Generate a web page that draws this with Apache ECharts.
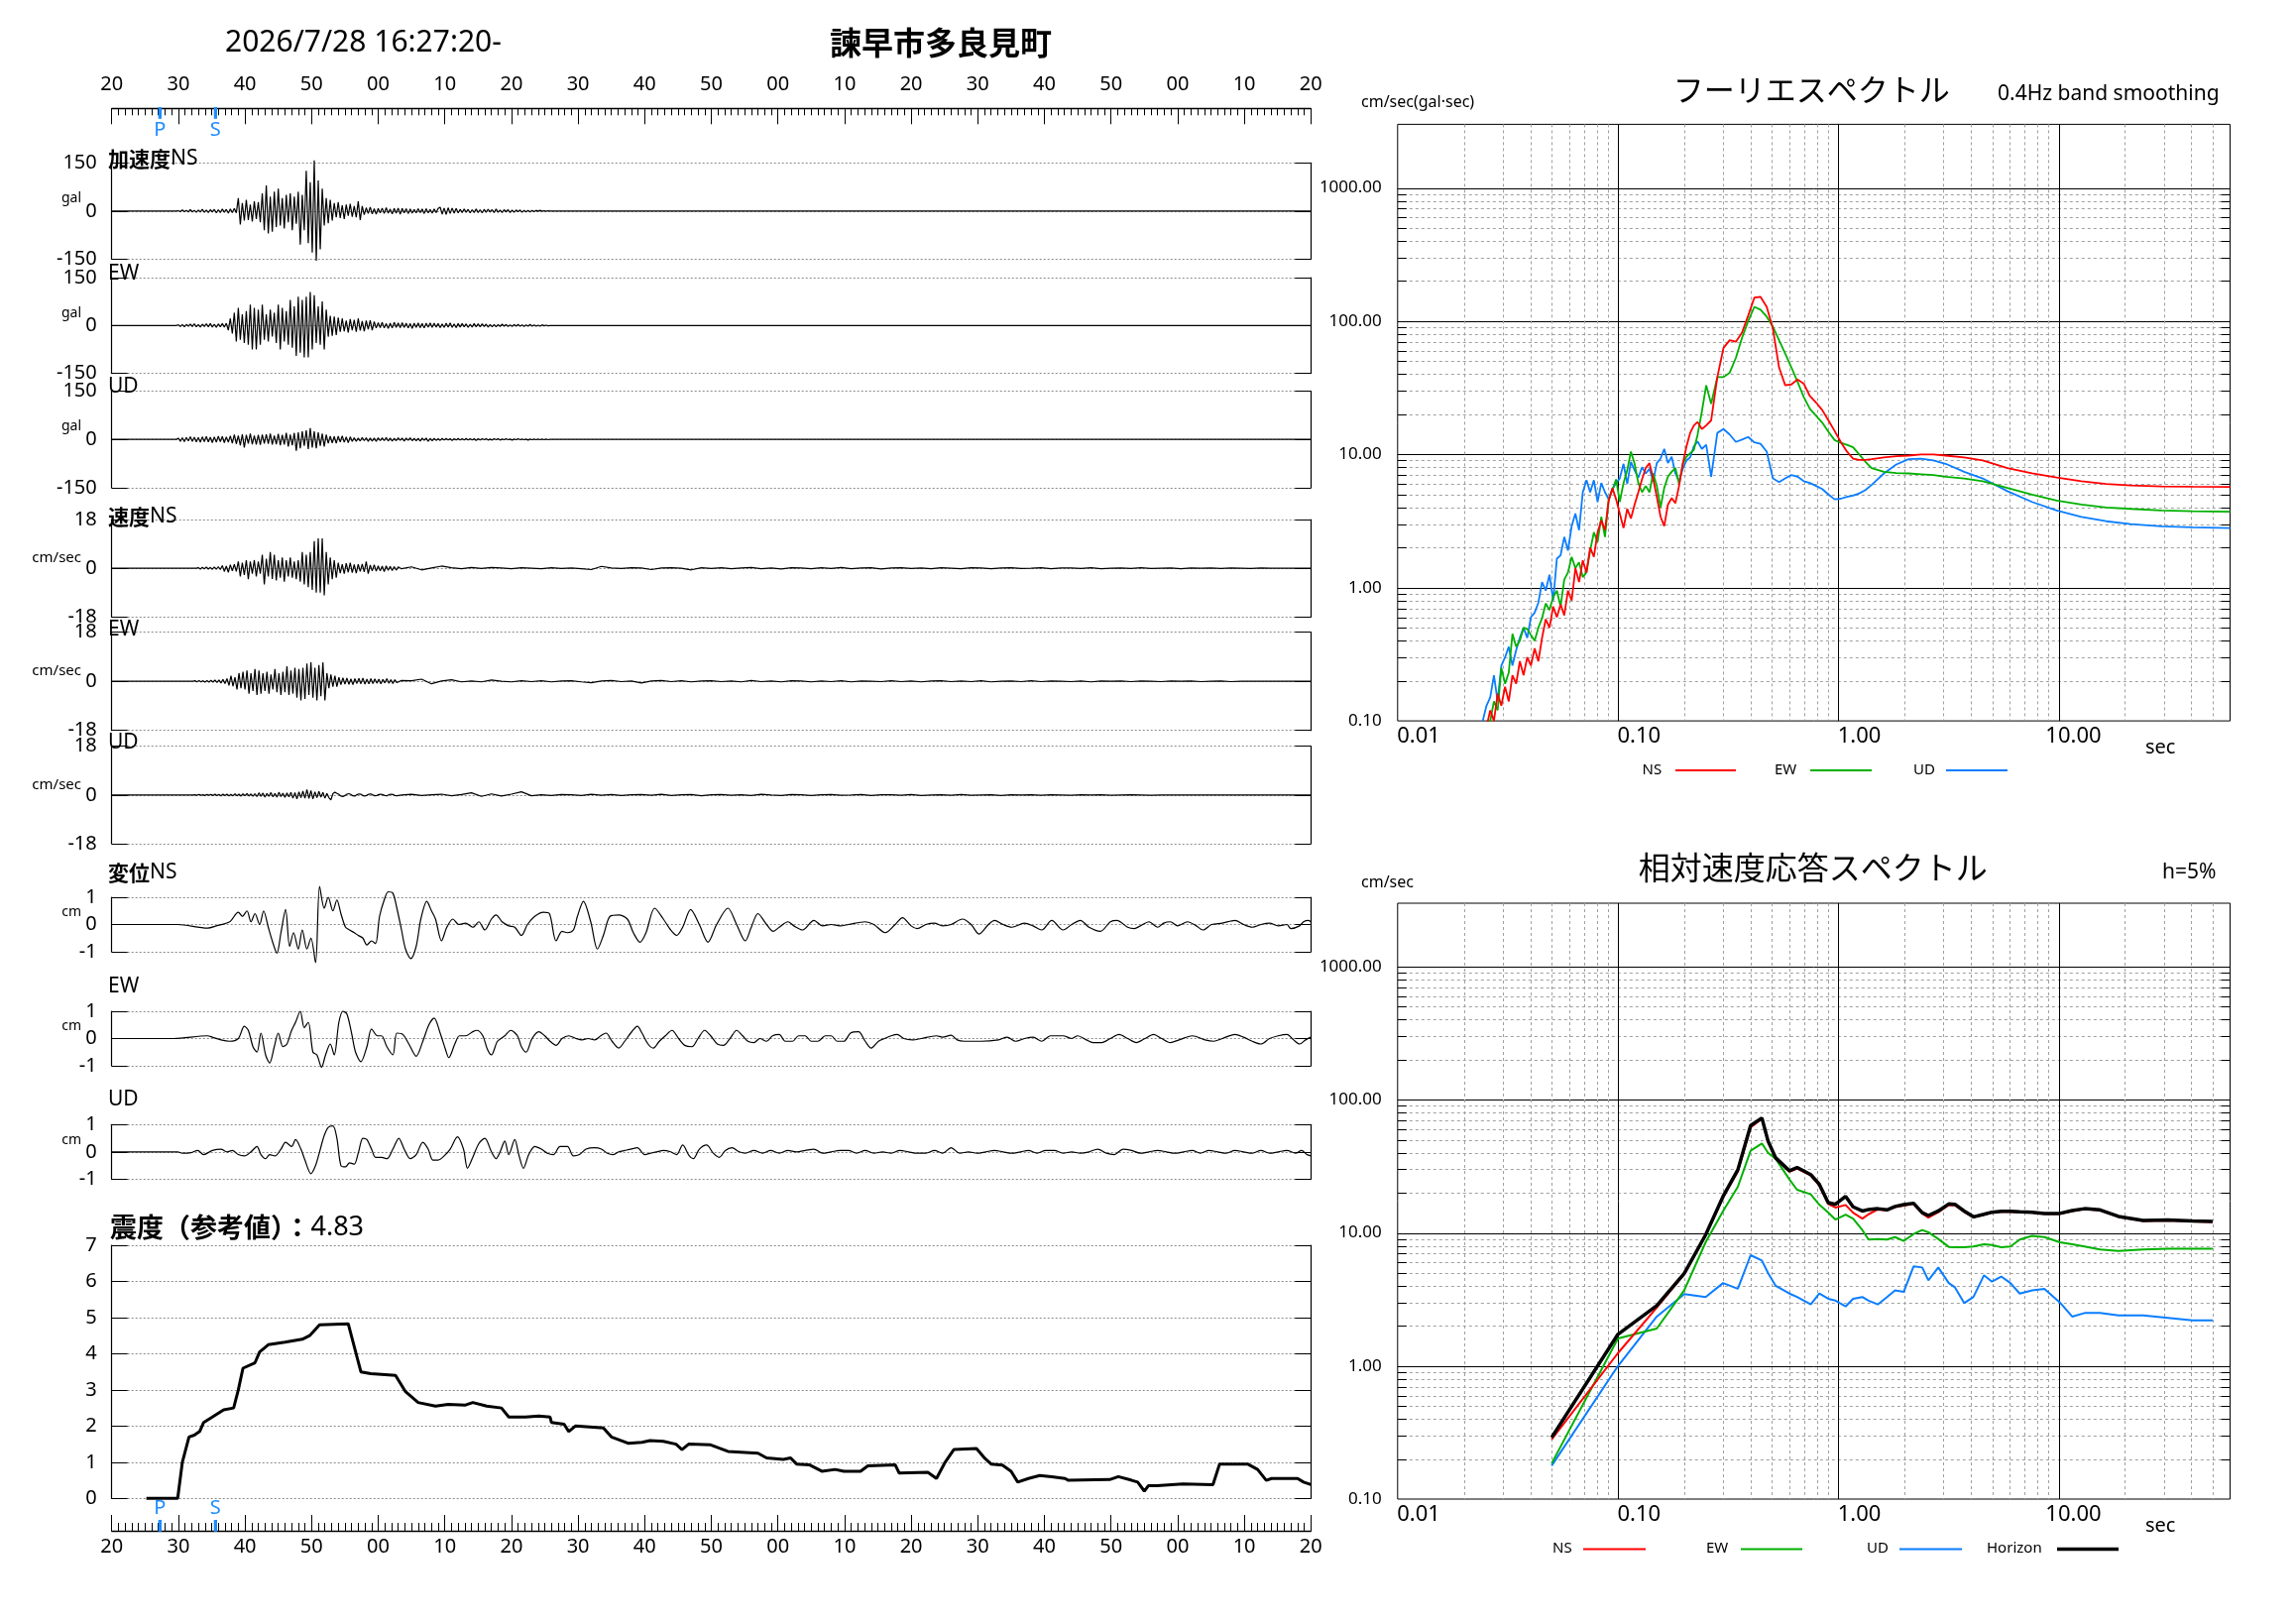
<!DOCTYPE html>
<html>
<head>
<meta charset="utf-8">
<title>諫早市多良見町</title>
<script src="https://cdn.jsdelivr.net/npm/echarts@6.0.0/dist/echarts.min.js"></script>
<style>html,body{margin:0;padding:0;background:#fff;}#chart{width:2316px;height:1637px;}</style>
</head>
<body>
<div id="chart"></div>
<script>
// ================= DATA =================
const startSecond = 20;                 // 16:27:20 -> t = 0
const psTimes = [7.23, 15.57];          // P and S arrival (s)
const psLabels = ['P', 'S'];

// acceleration (gal), samples every 0.3 s from t = 10 s
const accT0 = 10, accDt = 0.3;
const accNS = [1,-2,3,-2,2,-3,4,-3,2,-4,3,-3,5,-4,3,-5,4,-3,5,-6,4,-5,6,-4,5,-7,6,-5,8,-6,
 40,-42,25,-30,35,-28,20,-33,30,-25,28,-35,
 55,-60,80,-70,45,-65,60,-50,70,-45,
 40,-55,50,-35,55,-60,45,-40,
 60,-105,50,
 -60,125,-100,90,-130,158,-155,95,-120,70,
 -45,40,-38,35,-30,
 25,-20,28,-22,18,-25,20,-15,22,-18,15,-20,30,-28,15,-12,
 10,-8,12,-9,7,-10,8,-6,9,-8,10,-7,6,-9,8,-7,9,-10,8,-6,7,-8,6,-7,5,-6,7,-5,6,-8,7,-6,5,-7,6,-5,8,
 12,-10,9,-11,10,-8,9,-7,8,
 -6,5,-5,6,-4,5,-6,4,-5,6,-5,4,-6,5,-4,5,-3,4,-5,6,-4,3,-5,4,-3,4,-5,3,-4,3,-2,3,-4,2,-3,2,-3,2,
 -2,2,-1,2,-1,1,-1,1,0];
const accEW = [2,-3,3,-4,3,-2,4,-3,5,-4,3,-5,4,-3,5,-4,6,-5,4,-6,5,-4,6,-5,7,
 -15,22,-25,
 40,-50,55,-45,35,-55,45,-60,65,-75,55,
 -75,50,-60,65,-45,35,-50,50,-35,40,
 -55,65,-75,55,-50,45,
 -60,80,-70,60,-95,90,-85,80,
 -100,90,-100,105,-75,95,-55,60,
 -60,75,-75,50,
 -35,30,-32,28,-30,25,
 -20,22,-18,15,-22,20,-15,18,-20,22,-16,14,-18,15,-12,16,-15,12,
 -8,9,-7,10,-8,6,-9,7,-8,10,-6,8,-7,9,-6,7,-8,6,-9,7,-6,8,-7,6,-8,7,-5,8,-6,7,-5,6,-7,5,
 -6,7,-5,8,-6,5,-7,6,-5,6,-4,5,-6,4,-5,6,-4,5,-4,5,-3,4,-5,3,-4,
 3,-4,3,-3,4,-2,3,-3,2,-3,3,-2,3,-2,2,-3,2,-2,3,-2,2,-2,1,-2,2,-1,1,-1,0];
const accUD = [4,-6,5,-7,6,-5,8,-6,7,-8,6,-9,8,-7,9,-8,7,-10,8,-9,10,-7,9,-10,8,-9,11,
 -12,15,-14,12,-18,16,-25,14,-13,18,-15,12,-16,14,-17,15,-13,16,-14,18,-16,12,-15,17,-18,14,-16,20,-22,15,-18,20,
 -35,22,-28,25,-20,28,-30,35,-25,25,-28,22,-20,18,-22,15,
 -12,10,-11,9,-12,10,-8,11,-9,8,-10,8,
 -6,5,-6,4,-5,6,-4,5,-6,4,-5,4,-6,5,-4,5,-4,6,-5,4,-5,3,-4,5,-3,4,-5,4,-3,5,-4,3,-4,3,-5,4,-3,4,-6,3,-4,
 3,-3,2,-3,3,-2,3,-2,2,-3,2,-2,3,-2,2,-2,3,-2,2,-2,2,-3,2,-2,2,-1,2,-2,1,-2,2,-1,2,-2,1,-1,2,-1,1,-2,1,-1,2,-1,1,-1,1,-2,1,-1,1,-1,1,-1,1,-1,1,-1,0];

// velocity (cm/s): fast part every 0.3 s, slow part every 1.5 s from 43.5 s
const velDt = 0.3, velSlowT0 = 43.5, velSlowDt = 1.5;
const velNST0 = 13;
const velNS = [0.2,-0.3,0.3,-0.2,0.4,-0.3,0.3,-0.4,0.5,-0.4,0.6,-0.5,
 1.0,-1.2,0.8,-1.5,1.3,-1.0,1.5,-1.2,
 2.5,-3.0,2.0,-2.5,3.0,-4.0,2.5,-2.0,3.0,-3.0,2.5,-2.0,5.0,
 -6,3.5,-3,6,-4,5,-4.5,3,-3.5,4,-5,
 3,-3,4,-3.5,2.5,-4,3,-5,
 6,-6,5,-7,6,-8,
 10,-9,11,-9,11,-10,
 6,-6,4,-4,3,-3.5,
 2,-1.8,1.5,-2,1.8,-1.5,2,-1.6,1.4,-1.8,1.5,-1.2,1.6,-1.4,2.5,-2,1.2,-1,1.3,-1.1,
 0.9,-1.0,0.8,-1.2,0.9,-0.8,0.7,-0.9,0.6,-0.7,0.5];
const velNSSlow = [-0.2,0.5,-0.6,0.1,0.8,0.2,-0.2,0.3,-0.1,0.3,0.1,-0.2,0.2,0.0,-0.2,0.2,-0.1,0.1,-0.2,-0.5,0.7,0.1,-0.1,0.2,0.1,-0.5,0.1,0.2,0.0,-0.6,0.2,
 -0.1,0.2,-0.2,0.1,0.3,-0.2,0.1,-0.3,0.2,0.1,-0.2,0.2,-0.1,0.3,-0.2,0.1,0.2,-0.3,0.1,0.2,-0.1,0.1,-0.2,0.2,0.0,-0.2,0.2,0.1,-0.2,0.1,0.2,-0.1,0.0,0.2,-0.2,0.1,0.1,-0.1,0.2,-0.2,0.0,0.1,-0.1,0.2,-0.1,0.0,0.1,-0.2,0.1,0.0,0.1,-0.1,0.1,0.0,-0.1,0.1,0.0,0.0,0.0];
const velEWT0 = 12.5;
const velEW = [0.2,-0.2,0.3,-0.2,0.2,-0.3,0.3,-0.3,0.4,-0.3,0.5,-0.4,0.5,-0.6,0.7,-0.8,1.0,
 -1.5,2,-1.8,1.5,
 -3,3,-2.5,3.5,-3,4,-4.5,3,-3.5,4.5,-5,
 4,-4.5,3,-3.5,3.5,-4.5,2.5,-3,4.5,-4,3,-5,3.5,
 -4,5.5,-5,4,-4.5,5,-6,4.5,-7,5,
 -6.5,6.5,-5,7,-6,5,-7,6,-5.5,7,-7,
 3,-2.5,2.5,-2,2,-2,1.5,
 -1.2,1.3,-1,1.2,-1.1,0.9,-1.2,1,-0.8,1.1,-0.9,1.2,-1,0.8,-0.9,1,-0.8,0.9,-0.7,0.8,-0.9,0.7,-0.6,1.0,-0.7,0.6,-0.8,0.6,-0.5];
const velEWSlow = [0.3,0.2,0.8,-0.9,0.1,0.6,-0.2,0.1,-0.2,0.5,0.0,-0.2,0.2,-0.1,0.2,-0.2,0.1,0.2,-0.2,-0.5,0.1,0.3,-0.1,0.1,-0.6,0.1,0.3,-0.1,
 0.2,-0.2,0.1,0.2,-0.1,0.1,-0.2,0.3,-0.1,0.1,-0.2,0.2,0.1,-0.2,0.1,-0.1,0.2,-0.2,0.1,0.0,-0.1,0.2,-0.1,0.1,-0.2,0.1,0.2,-0.1,0.1,-0.1,0.2,-0.2,0.0,0.1,-0.1,0.2,-0.1,0.1,0.0,-0.1,0.1,-0.2,0.1,0.0,0.1,-0.1,0.1,0.0,-0.1,0.1,0.0,0.1,-0.1,0.0,0.1,-0.1,0.0,0.0,0.0,0.0];
const velUDT0 = 12.5;
const velUD = [0.1,-0.1,0.2,-0.1,0.1,-0.2,0.2,-0.1,0.2,-0.2,0.3,-0.2,0.2,-0.3,0.3,-0.2,0.3,-0.3,0.2,-0.3,0.4,-0.3,0.3,-0.4,0.4,-0.3,0.5,-0.4,0.4,-0.5,0.5,
 -0.6,0.8,-0.5,0.7,-0.8,0.6,-0.5,0.9,-0.7,0.6,-0.8,1.0,-0.6,0.7,-0.9,0.8,-0.7,1.0,
 -1.2,0.9,-1.5,1.2,-1.0,1.4,-1.2,2.0,-1.3,1.6,-1.5,1.2,-1.0,1.3,-0.8,1.0,-1.2,0.6,-1.0,-1.8,0.5,
 1.0,0.6,0.2,-0.4,-0.6,-0.2,0.3,0.5,0.2,-0.3,-0.4,0.1,0.4,0.3,-0.2,-0.4,-0.1,0.3,0.4,0.0,-0.3,-0.2,0.2,0.3,0.1,-0.2,-0.3,0.1,0.3,0.2,-0.2,-0.3];
const velUDSlow = [0.0,0.3,-0.2,0.1,0.3,-0.3,0.2,0.8,-0.5,0.4,-0.4,0.3,1.2,-0.3,0.1,-0.2,0.2,0.1,-0.2,0.3,-0.1,0.2,-0.2,0.1,0.2,-0.1,0.3,-0.2,0.1,0.2,-0.3,0.1,0.2,-0.1,0.1,-0.2,0.3,0.0,-0.2,0.2,0.1,-0.2,0.1,0.2,-0.1,0.0,0.2,-0.2,0.1,0.1,-0.1,0.2,-0.2,0.0,0.1,-0.1,0.2,-0.1,0.0,0.1,-0.2,0.1,0.0,0.1,-0.1,0.1,0.0,-0.1,0.1,0.0,0.1,-0.1,0.0,0.1,0.0,-0.1,0.0,0.0,0.0];

// displacement (cm): [t, value]
const dispNS = [[0,0],[9.9,0],[14.4,-0.13],[15.7,-0.05],[17.7,0.1],[19.0,0.45],[19.6,0.3],[20.3,0.5],[20.9,0.1],[21.5,0.4],[22.2,0.0],[22.8,0.5],[23.5,-0.1],[24.1,-0.6],[24.8,-1.05],[25.4,-0.3],[26.1,0.55],[26.7,-0.8],[27.3,-0.3],[28.0,-0.9],[28.6,-0.2],[29.3,-0.9],[29.9,-0.5],[30.6,-1.4],[31.2,1.4],[31.9,0.6],[32.5,1.0],[33.2,0.5],[33.8,0.9],[34.4,0.4],[35.1,-0.1],[35.7,-0.2],[36.4,-0.3],[37.0,-0.4],[37.7,-0.5],[38.3,-0.75],[39.0,-0.6],[39.6,-0.7],[40.2,0.3],[40.9,0.9],[41.5,1.2],[42.2,1.15],[42.8,0.6],[43.5,-0.2],[44.1,-0.9],[44.9,-1.25],[45.7,-0.8],[46.4,0.2],[47.3,0.85],[48.0,0.5],[48.6,0.2],[49.5,-0.6],[50.3,-0.1],[51.2,0.2],[52.1,0.0],[53.1,0.05],[54.2,-0.1],[55.1,0.1],[56.0,-0.2],[57.0,0.2],[57.7,0.35],[58.6,0.1],[59.6,-0.05],[60.5,-0.1],[61.5,-0.4],[62.4,0.0],[63.5,0.3],[64.8,0.45],[65.7,0.4],[66.7,-0.6],[67.6,-0.25],[68.4,-0.3],[69.3,-0.2],[69.9,0.3],[70.8,0.85],[71.9,0.1],[72.9,-0.9],[73.8,-0.4],[74.8,0.3],[76.1,0.35],[77.4,0.2],[78.3,-0.3],[79.3,-0.65],[80.2,-0.3],[81.5,0.6],[82.8,0.2],[83.9,-0.2],[84.8,-0.4],[85.7,-0.1],[86.9,0.55],[88.2,0.0],[89.5,-0.65],[90.8,0.0],[92.5,0.6],[93.8,0.0],[95.1,-0.6],[96.0,-0.1],[97.0,0.4],[98.3,0.0],[99.3,-0.25],[100.2,-0.1],[101.5,0.1],[102.4,-0.05],[103.7,-0.2],[105.4,0.15],[106.7,-0.05],[108.0,0.0],[109.3,-0.05],[110.6,0.0],[113.1,0.1],[114.4,0.0],[116.1,-0.3],[117.6,0.0],[118.7,0.25],[120.0,-0.05],[120.9,-0.15],[122.2,0.0],[123.5,0.05],[124.7,-0.05],[126.0,0.0],[127.7,0.2],[129.0,0.0],[130.2,-0.35],[131.6,0.0],[132.5,0.15],[133.8,0.0],[135.1,-0.1],[137.0,0.05],[138.3,-0.05],[139.6,-0.2],[141.1,0.15],[142.8,-0.2],[144.1,0.0],[145.4,0.15],[146.7,-0.1],[148.4,-0.25],[149.9,0.1],[150.9,0.15],[152.5,-0.1],[153.5,-0.15],[154.4,-0.05],[155.7,0.1],[157.0,-0.1],[157.9,0.05],[158.9,0.1],[160.0,-0.05],[161.5,0.1],[162.8,-0.05],[163.8,-0.2],[165.1,0.0],[166.7,0.05],[168.6,0.15],[169.9,0.0],[171.2,-0.1],[172.5,0.0],[173.8,0.05],[175.1,-0.05],[176.4,0.0],[177.0,-0.15],[178.3,-0.05],[178.9,0.1],[179.6,0.15],[180,0.1]];
const dispEW = [[0,0],[9.3,0],[14.4,0.1],[15.1,0.05],[16.4,-0.05],[17.7,-0.1],[19.0,0.0],[19.9,0.45],[20.5,0.3],[21.2,-0.3],[21.8,-0.5],[22.4,0.2],[23.1,-0.6],[23.7,-0.9],[24.4,-0.3],[25.0,0.2],[25.7,-0.3],[26.3,-0.2],[27.0,0.3],[27.6,0.6],[28.3,1.0],[28.9,0.4],[29.5,0.6],[30.2,-0.5],[30.8,-0.6],[31.5,-1.05],[32.1,-0.6],[32.8,-0.2],[33.4,-0.6],[34.1,0.6],[34.7,1.0],[35.3,0.9],[36.0,0.2],[36.6,-0.5],[37.4,-0.85],[38.3,-0.3],[39.0,0.35],[39.9,0.1],[40.5,0.1],[41.3,-0.3],[42.2,-0.6],[42.8,0.2],[43.7,0.15],[44.6,-0.2],[45.7,-0.65],[46.7,-0.1],[47.6,0.5],[48.4,0.75],[49.3,0.2],[50.1,-0.4],[50.6,-0.7],[51.5,-0.2],[52.2,0.1],[53.1,0.1],[54.2,0.25],[54.8,0.3],[55.7,0.1],[56.4,-0.4],[57.0,-0.6],[57.9,-0.1],[59.0,0.1],[59.9,0.3],[60.9,0.1],[61.5,-0.3],[62.2,-0.5],[63.1,0.0],[64.1,0.25],[65.0,0.1],[65.8,-0.1],[66.7,-0.25],[67.6,0.0],[68.6,0.1],[69.7,0.0],[70.6,-0.05],[71.5,0.0],[72.5,-0.05],[73.4,0.1],[74.2,0.2],[75.1,-0.1],[76.1,-0.35],[77.0,-0.1],[77.9,0.2],[78.9,0.45],[79.6,0.2],[80.5,-0.2],[81.3,-0.35],[82.2,-0.1],[83.1,0.1],[84.1,0.3],[85.1,0.0],[86.0,-0.25],[87.1,-0.3],[88.0,0.0],[89.0,0.3],[89.9,0.1],[90.9,-0.2],[91.8,-0.25],[92.8,0.0],[93.8,0.3],[94.7,0.1],[95.5,-0.1],[96.4,-0.15],[97.3,0.0],[98.3,-0.1],[99.2,0.1],[100.2,0.15],[101.1,-0.1],[102.2,-0.1],[103.1,0.1],[104.1,0.1],[105.0,-0.1],[106.0,-0.1],[107.1,0.1],[108.0,0.1],[108.9,-0.1],[109.9,-0.1],[110.9,0.2],[112.1,0.25],[113.1,-0.1],[114.0,-0.35],[115.1,-0.1],[116.0,0.0],[117.0,0.1],[117.9,0.15],[118.9,0.0],[120.2,-0.05],[121.5,0.0],[123.8,0.1],[124.7,0.05],[126.0,0.12],[126.9,-0.05],[128.0,-0.1],[130.5,-0.1],[133.1,-0.05],[134.4,0.05],[135.7,-0.1],[137.0,0.0],[138.3,0.05],[139.6,-0.1],[140.9,0.1],[142.8,0.1],[144.1,0.0],[145.0,0.1],[146.3,-0.05],[147.3,-0.15],[148.6,-0.15],[149.9,0.0],[151.2,0.15],[152.5,0.0],[153.8,-0.15],[155.1,0.0],[156.4,0.15],[157.6,0.0],[158.9,-0.15],[160.2,-0.05],[162.2,0.1],[164.1,-0.05],[165.4,-0.1],[166.7,0.0],[168.6,0.15],[169.9,0.05],[171.2,-0.1],[172.5,-0.2],[173.8,0.0],[175.1,0.1],[176.4,0.15],[177.4,-0.05],[178.3,-0.2],[179.2,-0.05],[180,0.05]];
const dispUD = [[0,0],[9.9,0],[10.6,-0.05],[11.9,-0.03],[12.9,0.05],[13.8,-0.1],[15.1,0.05],[16.4,0.1],[17.3,0.0],[18.1,0.05],[19.0,-0.1],[19.9,-0.15],[20.9,0.0],[21.8,0.2],[22.4,-0.1],[23.1,-0.25],[23.7,-0.1],[24.5,-0.15],[25.4,0.1],[26.1,0.35],[27.0,0.2],[27.6,0.45],[28.4,0.1],[29.0,-0.3],[29.9,-0.8],[30.6,-0.5],[31.2,0.0],[31.9,0.6],[32.5,0.9],[33.2,0.95],[33.8,0.5],[34.4,-0.5],[35.1,-0.55],[35.7,-0.4],[36.4,-0.45],[37.0,-0.05],[37.7,0.5],[38.3,0.45],[39.0,0.1],[39.6,-0.2],[40.5,-0.2],[41.3,-0.25],[42.2,0.1],[43.1,0.5],[43.9,0.1],[44.8,-0.25],[45.7,-0.1],[46.7,0.35],[47.5,0.1],[48.2,-0.3],[49.0,-0.3],[49.9,-0.15],[50.8,0.1],[51.9,0.55],[52.8,0.1],[53.4,-0.6],[54.2,-0.2],[55.1,0.3],[56.0,0.5],[57.0,0.0],[57.7,-0.25],[58.3,0.0],[59.0,0.4],[59.6,-0.1],[60.5,0.45],[61.1,-0.1],[61.8,-0.6],[62.6,-0.1],[63.5,0.2],[64.5,0.1],[65.4,-0.05],[66.3,-0.1],[67.3,0.2],[68.4,0.2],[69.3,-0.15],[70.2,-0.1],[71.2,0.1],[72.5,0.15],[73.5,0.1],[74.4,-0.05],[75.3,-0.1],[76.1,0.0],[77.0,0.05],[77.9,0.1],[78.9,0.15],[80.0,-0.1],[80.9,-0.05],[81.8,0.0],[82.8,0.05],[83.9,0.0],[84.8,-0.1],[85.7,0.25],[86.7,-0.15],[87.3,-0.25],[88.2,0.1],[89.3,0.25],[90.3,-0.05],[91.2,-0.2],[92.1,0.05],[93.1,0.15],[94.2,0.0],[95.1,-0.05],[96.4,0.05],[97.7,-0.05],[98.9,0.05],[100.2,-0.05],[101.5,0.05],[102.8,0.0],[104.1,0.05],[105.4,0.1],[106.7,-0.05],[108.0,0.0],[109.3,0.05],[110.6,0.05],[111.8,-0.05],[113.1,0.05],[114.4,-0.05],[115.7,0.0],[117.0,-0.05],[118.3,0.05],[119.6,0.0],[120.9,-0.05],[122.2,-0.05],[123.5,0.05],[124.7,-0.05],[126.0,0.15],[127.3,-0.05],[128.6,0.0],[129.9,-0.05],[131.2,0.0],[132.5,0.05],[133.8,0.0],[135.1,-0.05],[136.4,0.0],[137.6,0.05],[138.9,-0.05],[140.2,0.05],[141.5,0.05],[142.8,-0.05],[144.1,0.0],[145.4,-0.05],[146.7,0.0],[148.0,0.1],[149.3,-0.05],[150.5,-0.1],[151.8,0.1],[153.1,0.05],[154.4,-0.05],[155.7,0.0],[157.0,0.05],[158.3,0.0],[159.6,-0.05],[160.9,0.0],[162.2,0.05],[163.4,-0.05],[164.7,0.05],[166.0,0.0],[167.3,-0.05],[168.6,0.05],[169.9,0.0],[171.2,-0.05],[172.5,0.05],[173.8,-0.05],[175.1,0.0],[176.4,0.05],[177.7,-0.05],[178.6,0.05],[179.4,-0.1],[180,-0.15]];

// seismic intensity (reference value): [t, value]
const intensity = [[5.2,0],[9.9,0],[10.6,1.0],[11.6,1.7],[12.4,1.75],[13.2,1.85],[13.8,2.1],[15.1,2.25],[16.8,2.45],[18.3,2.5],[19.0,3.0],[19.7,3.6],[21.5,3.75],[22.2,4.05],[23.5,4.25],[26.0,4.32],[28.6,4.4],[29.7,4.5],[31.2,4.8],[35.5,4.83],[36.4,4.2],[37.4,3.5],[38.9,3.45],[42.6,3.4],[44.1,2.95],[46.0,2.65],[48.6,2.55],[50.5,2.6],[53.1,2.58],[54.2,2.65],[56.3,2.55],[58.5,2.5],[59.6,2.25],[62.1,2.25],[64.1,2.28],[65.8,2.25],[66.0,2.1],[67.9,2.05],[68.6,1.85],[69.6,2.0],[73.8,1.95],[75.0,1.7],[77.6,1.52],[79.6,1.55],[80.8,1.6],[82.8,1.58],[84.7,1.5],[85.6,1.35],[86.6,1.5],[89.9,1.48],[92.5,1.3],[97.0,1.25],[98.3,1.12],[100.8,1.08],[101.9,1.12],[102.8,0.95],[104.7,0.93],[106.6,0.75],[108.6,0.8],[109.9,0.75],[112.4,0.75],[113.5,0.9],[117.6,0.93],[118.2,0.7],[122.5,0.72],[123.8,0.55],[125.1,1.0],[126.4,1.35],[129.8,1.38],[131.1,1.1],[132.0,0.95],[133.7,0.92],[135.0,0.75],[136.0,0.45],[137.6,0.55],[139.3,0.63],[141.1,0.6],[143.1,0.55],[143.6,0.5],[149.8,0.52],[151.1,0.6],[153.1,0.5],[154.0,0.45],[155.0,0.2],[155.6,0.35],[156.9,0.35],[160.8,0.4],[165.3,0.38],[166.3,0.95],[170.5,0.95],[172.0,0.8],[173.3,0.5],[174.1,0.55],[178.0,0.55],[178.9,0.45],[180,0.38]];

// Fourier spectrum (cm/sec) vs period (sec)
const fourierPeriod = [0.02434,0.02531,0.02632,0.02736,0.02844,0.02956,0.03073,0.03194,0.03320,0.03451,0.03587,0.03728,0.03875,0.04028,0.04187,0.04352,0.04524,0.04702,0.04888,0.05081,0.05281,0.05490,0.05706,0.05931,0.06165,0.06409,0.06661,0.06924,0.07197,0.07481,0.07776,0.08083,0.08402,0.08733,0.09078,0.09436,0.09808,0.1019,0.1060,0.1102,0.1145,0.1190,0.1237,0.1286,0.1337,0.1390,0.1444,0.1501,0.1561,0.1622,0.1686,0.1753,0.1822,0.1894,0.1969,0.2047,0.2127,0.2211,0.2298,
 0.2404,0.2515,0.2648,
 0.2825,0.3013,0.3214,0.3428,0.3656,0.3900,0.4159,0.4437,0.4733,0.5048,0.5384,0.5743,0.6125,0.6533,0.6968,0.7432,0.7929,0.8457,0.9020,0.9620,1.026,1.094,1.167,1.245,1.328,1.416,
 1.611,1.833,2.085,2.372,2.699,3.070,
 3.727,4.521,5.852,7.574,9.803,12.69,16.43,21.27,29.37,40.5,60];
const fourierNS = [null,0.09,0.12,0.10,0.16,0.13,0.18,0.14,0.22,0.19,0.28,0.22,0.30,0.26,0.35,0.28,0.42,0.58,0.50,0.72,0.60,0.75,0.62,0.95,0.80,1.4,1.1,1.6,1.3,2.0,1.7,2.6,3.2,2.7,4.5,5.6,4.6,3.6,2.8,3.9,3.3,4.2,5.2,6.5,7.9,8.6,6.6,4.8,3.4,2.9,4.2,4.7,4.3,5.8,8.5,11.5,14.5,16.5,17.5,
 15.5,16.5,18,
 38,63,72,70,82,110,150,152,128,88,45,33,33.5,36.5,34,27.4,24.5,21.5,18,15,12.4,10.5,9.3,9.1,9.1,9.2,
 9.5,9.7,9.8,10.0,10.0,9.8,
 9.5,9.0,7.9,7.2,6.7,6.3,6.0,5.85,5.75,5.72,5.7];
const fourierEW = [null,0.08,0.10,0.14,0.12,0.25,0.19,0.23,0.45,0.36,0.40,0.50,0.49,0.44,0.40,0.50,0.59,0.76,0.68,0.85,0.95,0.72,1.15,1.3,1.7,1.4,1.55,1.2,1.3,1.9,2.6,2.2,3.4,2.4,4.6,5.4,6.5,4.4,6.1,7.6,10.5,8.5,6.1,5.2,5.8,5.2,7.2,5.8,4.0,5.6,6.8,7.4,7.9,6.0,8.5,9.6,10.2,10.8,14,
 21,33,24,
 38,38,41,53,75,100,128,122,108,91,72,57,45,35,27,22,19.5,17.3,14.8,12.8,12.2,11.8,11.3,10.0,8.8,7.9,
 7.4,7.25,7.2,7.1,7.0,6.8,
 6.6,6.3,5.6,5.0,4.5,4.2,4.0,3.9,3.8,3.75,3.72];
const fourierUD = [0.10,0.13,0.15,0.22,0.14,0.26,0.30,0.36,0.26,0.34,0.42,0.50,0.42,0.60,0.65,0.77,1.1,0.95,1.25,0.80,1.65,1.75,2.4,1.9,2.9,3.6,2.7,5.2,6.4,5.2,6.4,4.4,6.1,5.2,4.6,5.5,6.1,6.6,8.5,6.0,8.8,7.6,6.7,8.0,7.2,7.8,6.3,8.6,9.3,11.0,8.6,9.6,7.2,6.3,7.8,9.0,9.5,11.5,12.5,
 11.0,11.8,6.8,
 14.5,15.5,14.1,12.4,12.9,13.5,12.3,12.0,10.5,6.6,6.2,6.6,7.0,6.8,6.3,6.1,5.8,5.5,5.0,4.6,4.65,4.8,4.9,5.1,5.4,5.9,
 7.2,8.4,9.2,9.3,9.0,8.5,
 7.4,6.6,5.3,4.4,3.8,3.4,3.15,3.0,2.88,2.84,2.8];

// relative velocity response spectrum h=5% (cm/sec)
const respPeriod = [0.05,0.1,0.15,0.2,0.25,0.3,0.35,0.4,0.45,0.48,0.52,0.6,0.65,0.75,0.82,0.9,0.97,1.08,1.167,1.286,1.372,1.511,1.664,1.81,1.981,2.196,2.404,2.564,2.843,3.172,3.383,3.727,4.106,4.582,4.984,5.489,6.046,6.661,7.58,8.621,10.13,11.52,13.11,15.41,18.7,24.2,31.33,40.54,50];
const respNS = [0.28,1.25,2.75,4.9,9.6,18.5,29,62,72,48,36,28.8,30.5,27,22.8,16.5,15.5,16.2,14.2,12.8,13.8,15.0,14.8,15.6,16.0,16.5,14.0,13.0,14.3,16.2,16.1,14.4,13.1,13.7,14.2,14.4,14.4,14.3,14.2,13.9,13.9,14.6,15.1,14.8,13.2,12.3,12.4,12.2,12.1];
const respEW = [0.185,1.61,1.91,3.71,8.5,14.6,22.2,41.5,47,40,36,25.2,21.1,19.5,16.3,14.2,12.6,13.7,12.8,10.5,8.9,9.0,8.9,9.3,8.7,9.8,10.5,10.1,9.0,7.85,7.8,7.8,7.9,8.2,8.1,7.8,7.9,8.9,9.5,9.3,8.5,8.2,7.9,7.5,7.3,7.5,7.6,7.6,7.6];
const respUD = [0.178,1.0,2.35,3.47,3.3,4.2,3.8,6.8,6.2,5.0,4.0,3.5,3.3,2.9,3.5,3.2,3.1,2.8,3.2,3.3,3.1,2.9,3.3,3.7,3.6,5.6,5.5,4.4,5.5,4.2,3.9,2.97,3.3,4.8,4.3,4.7,4.2,3.5,3.7,3.8,3.0,2.35,2.5,2.5,2.4,2.4,2.3,2.2,2.2];
const respHorizon = [0.29,1.73,2.84,4.97,9.67,18.8,29.8,64,73,49,36.6,29.3,31.0,27.4,23.2,16.9,16.4,18.8,15.7,14.6,15.0,15.2,14.9,15.8,16.3,16.7,14.2,13.5,14.6,16.5,16.4,14.6,13.2,13.8,14.3,14.5,14.5,14.4,14.3,14.0,14.0,14.7,15.2,14.9,13.3,12.4,12.5,12.3,12.2];

// log grid line values
const logMajorY = [1, 10, 100, 1000];
const logMinorY = [0.2,0.3,0.4,0.5,0.6,0.7,0.8,0.9,2,3,4,5,6,7,8,9,20,30,40,50,60,70,80,90,200,300,400,500,600,700,800,900];
const logMajorX = [0.1, 1, 10];
const logMinorX = [0.02,0.03,0.04,0.05,0.06,0.07,0.08,0.09,0.2,0.3,0.4,0.5,0.6,0.7,0.8,0.9,2,3,4,5,6,7,8,9,20,30,40,50];

// ================= BUILD =================
const FF = "'Noto Sans','Noto Sans CJK JP',sans-serif";
const FFJ = "'Noto Sans CJK JP','Noto Sans',sans-serif";
const BLUE_PS = '#1E8CFF';
const C_NS = '#FF0000', C_EW = '#00B000', C_UD = '#0A7DFF';
const PL = 112.7, PW = 1209.6;

function fmtTime(v) { const s = (startSecond + Math.round(v)) % 60; return (s < 10 ? '0' : '') + s; }
function sampled(t0, dt, vals) { return vals.map((v, i) => [+(t0 + i * dt).toFixed(3), v]); }
function waveData(fast, slow) {
  let d = [[0, 0], [fast[0][0] - 0.3, 0]].concat(fast);
  if (slow) d = d.concat(slow);
  d = d.filter(p => p[0] <= 180);
  d.push([180, 0]);
  return d;
}

const panels = [
  {top:164.3, h:97.0, max:150, label:'加速度NS', unit:'gal', ldy:-4.3, udy:-12.7,
   data: waveData(sampled(accT0, accDt, accNS))},
  {top:280.0, h:96.6, max:150, label:'EW', unit:'gal', ldy:-4.3, udy:-12.7,
   data: waveData(sampled(accT0, accDt, accEW))},
  {top:394.5, h:97.4, max:150, label:'UD', unit:'gal', ldy:-4.3, udy:-12.7,
   data: waveData(sampled(accT0, accDt, accUD))},
  {top:524.0, h:98.3, max:18, label:'速度NS', unit:'cm/sec', ldy:-2.6, udy:-10,
   data: waveData(sampled(velNST0, velDt, velNS), sampled(velSlowT0, velSlowDt, velNSSlow))},
  {top:637.7, h:99.0, max:18, label:'EW', unit:'cm/sec', ldy:-2.6, udy:-10,
   data: waveData(sampled(velEWT0, velDt, velEW), sampled(velSlowT0, velSlowDt, velEWSlow))},
  {top:752.7, h:98.3, max:18, label:'UD', unit:'cm/sec', ldy:-3.2, udy:-10,
   data: waveData(sampled(velUDT0, velDt, velUD), sampled(velSlowT0, velSlowDt, velUDSlow))},
  {top:905.0, h:55.0, max:1, label:'変位NS', unit:'cm', ldy:-25, udy:-12, data: dispNS, smooth:0.3},
  {top:1020.0, h:55.0, max:1, label:'EW', unit:'cm', ldy:-25, udy:-12, data: dispEW, smooth:0.3},
  {top:1134.3, h:55.0, max:1, label:'UD', unit:'cm', ldy:-25, udy:-12, data: dispUD, smooth:0.3}
];

const grids = [], xAxes = [], yAxes = [], series = [], graphics = [];
function addGrid(g) { grids.push(Object.assign({outerBoundsMode:'none', containLabel:false, show:false}, g)); return grids.length - 1; }
const blackLine = {color:'#000', width:1.2};
const dotted = {color:'#8a8a8a', width:1, type:[2, 2]};

function timeAxis(gi, pos, minorLen, margin) {
  return {gridIndex:gi, type:'value', min:0, max:180, interval:10, position:pos,
    axisLine:{show:true, onZero:false, lineStyle:{color:'#000', width:1.3}},
    axisTick:{show:true, inside:true, length:16, lineStyle:{color:'#000', width:1}},
    minorTick:{show:true, splitNumber:10, length:minorLen, lineStyle:{color:'#000', width:1}},
    axisLabel:{show:true, margin:margin, fontSize:20, fontFamily:FF, color:'#000', formatter:fmtTime},
    splitLine:{show:false}, minorSplitLine:{show:false}};
}

// top time axis
const gTop = addGrid({left:PL, top:109.3, width:PW, height:16});
xAxes.push(timeAxis(gTop, 'top', 7, 14));
yAxes.push({gridIndex:gTop, type:'value', min:0, max:1, show:false});

// waveform panels
const panelGrids = [];
panels.forEach(p => {
  const gi = addGrid({left:PL, top:p.top, width:PW, height:p.h});
  panelGrids.push(gi);
  xAxes.push({gridIndex:gi, type:'value', min:0, max:180, show:false, axisLine:{onZero:false}});
  yAxes.push({gridIndex:gi, type:'value', min:-p.max, max:p.max, interval:p.max, position:'left',
    axisLine:{show:true, onZero:false, lineStyle:blackLine},
    axisTick:{show:true, inside:true, length:16, lineStyle:{color:'#000', width:1}},
    axisLabel:{show:true, margin:15, fontSize:20, fontFamily:FF, color:'#000'},
    splitLine:{show:true, showMinLine:true, showMaxLine:true, lineStyle:dotted}});
  series.push({type:'line', xAxisIndex:gi, yAxisIndex:gi, data:p.data, symbol:'none', showSymbol:false,
    smooth:p.smooth || false, clip:false, silent:true, animation:false,
    lineStyle:{color:'#000', width:1.2}, z:3});
});

// intensity panel
const gInt = addGrid({left:PL, top:1256, width:PW, height:255.3});
xAxes.push({gridIndex:gInt, type:'value', min:0, max:180, show:false, axisLine:{onZero:false}});
yAxes.push({gridIndex:gInt, type:'value', min:0, max:7, interval:1, position:'left',
  axisLine:{show:true, onZero:false, lineStyle:blackLine},
  axisTick:{show:true, inside:true, length:16, lineStyle:{color:'#000', width:1}},
  axisLabel:{show:true, margin:15, fontSize:20, fontFamily:FF, color:'#000'},
  splitLine:{show:true, showMinLine:true, showMaxLine:true, lineStyle:dotted}});
series.push({type:'line', xAxisIndex:gInt, yAxisIndex:gInt, data:intensity, symbol:'none', showSymbol:false,
  clip:false, silent:true, animation:false, lineStyle:{color:'#000', width:3}, z:3});

// bottom time axis
const gBot = addGrid({left:PL, top:1528, width:PW, height:16});
xAxes.push(timeAxis(gBot, 'bottom', 8, 6));
yAxes.push({gridIndex:gBot, type:'value', min:0, max:1, show:false});

// Fourier & response grids
function decadeLabel(v) {
  const l = Math.log10(v);
  return Math.abs(l - Math.round(l)) < 1e-6;
}
function logGrid(top, height) {
  const gi = addGrid({left:1409.8, top:top, width:839.7, height:height, show:true, borderColor:'#000', borderWidth:1, backgroundColor:'rgba(0,0,0,0)'});
  xAxes.push({gridIndex:gi, type:'log', logBase:10, min:0.01, max:60,
    axisLine:{show:false, onZero:false}, axisTick:{show:false}, splitLine:{show:false}, minorTick:{show:false},
    axisLabel:{show:true, margin:5, align:'center', color:'#000',
      formatter: v => decadeLabel(v) ? '{a|' + v.toFixed(2) + '}' : '',
      rich:{a:{width:86, align:'right', fontSize:22, fontFamily:FF, color:'#000'}}}});
  yAxes.push({gridIndex:gi, type:'log', logBase:10, min:0.1, max:3000,
    axisLine:{show:false, onZero:false}, axisTick:{show:false}, splitLine:{show:false}, minorTick:{show:false},
    axisLabel:{show:true, margin:16, fontSize:17, fontFamily:FF, color:'#000',
      formatter: v => decadeLabel(v) ? v.toFixed(2) : ''}});
  return gi;
}
const gF = logGrid(125.4, 601.7);
const gR = logGrid(911, 601);

const logGridData = [];
logMinorY.forEach(v => logGridData.push([0.01, v, 0]));
logMajorY.forEach(v => logGridData.push([0.01, v, 1]));
logMinorX.forEach(v => logGridData.push([v, 0.1, 2]));
logMajorX.forEach(v => logGridData.push([v, 0.1, 3]));

function logGridRender(params, api) {
  const cs = params.coordSys;
  const kind = api.value(2);
  const pt = api.coord([api.value(0), api.value(1)]);
  const minor = (kind === 0 || kind === 2);
  const st = minor ? {stroke:'#a0a0a0', lineWidth:1, lineDash:[3, 3]} : {stroke:'#000', lineWidth:1};
  const ch = [];
  if (kind < 2) {
    const y = Math.round(pt[1]) + 0.5;
    ch.push({type:'line', shape:{x1:cs.x, y1:y, x2:cs.x + cs.width, y2:y}, style:st});
    if (minor) {
      ch.push({type:'line', shape:{x1:cs.x, y1:y, x2:cs.x + 9, y2:y}, style:{stroke:'#000', lineWidth:1}});
      ch.push({type:'line', shape:{x1:cs.x + cs.width - 9, y1:y, x2:cs.x + cs.width, y2:y}, style:{stroke:'#000', lineWidth:1}});
    }
  } else {
    const x = Math.round(pt[0]) + 0.5;
    ch.push({type:'line', shape:{x1:x, y1:cs.y, x2:x, y2:cs.y + cs.height}, style:st});
  }
  return {type:'group', children:ch};
}
[gF, gR].forEach(gi => {
  series.push({type:'custom', xAxisIndex:gi, yAxisIndex:gi, data:logGridData, renderItem:logGridRender,
    silent:true, animation:false, z:1, clip:false});
});

function specSeries(gi, periods, vals, color, width, z) {
  const d = [];
  periods.forEach((p, i) => { if (vals[i] != null) d.push([p, vals[i]]); });
  series.push({type:'line', xAxisIndex:gi, yAxisIndex:gi, data:d, symbol:'none', showSymbol:false,
    silent:true, animation:false, clip:true, lineStyle:{color:color, width:width}, z:z});
}
specSeries(gF, fourierPeriod, fourierUD, C_UD, 1.8, 3);
specSeries(gF, fourierPeriod, fourierEW, C_EW, 1.8, 4);
specSeries(gF, fourierPeriod, fourierNS, C_NS, 1.8, 5);
specSeries(gR, respPeriod, respUD, C_UD, 2, 3);
specSeries(gR, respPeriod, respEW, C_EW, 2, 4);
specSeries(gR, respPeriod, respNS, C_NS, 2, 5);
specSeries(gR, respPeriod, respHorizon, '#000', 3.5, 6);

// right-side axes (borders) for panels and intensity
panelGrids.concat([gInt]).forEach((gi, k) => {
  const isInt = gi === gInt;
  const mx = isInt ? 7 : panels[k].max;
  yAxes.push({gridIndex:gi, type:'value', min:isInt ? 0 : -mx, max:mx, interval:isInt ? 1 : mx, position:'right',
    axisLine:{show:true, onZero:false, lineStyle:blackLine},
    axisTick:{show:true, inside:true, length:16, lineStyle:{color:'#000', width:1}},
    axisLabel:{show:false}, splitLine:{show:false}});
});

// P / S markers
function psRender(isTop) {
  return function (params, api) {
    const cs = params.coordSys;
    const x = api.coord([api.value(0), 0])[0];
    const lbl = psLabels[api.value(2)];
    const rectY = isTop ? cs.y - 1.3 : cs.y + 5;
    const txtY = isTop ? cs.y + 22.4 : cs.y - 6.3;
    return {type:'group', children:[
      {type:'rect', shape:{x:x - 1.6, y:rectY, width:3.3, height:11.8}, style:{fill:BLUE_PS}},
      {type:'text', x:x, y:txtY, style:{text:lbl, fill:BLUE_PS, fontSize:20, fontFamily:FF,
        align:'center', verticalAlign:'middle', textAlign:'center', textVerticalAlign:'middle'}}
    ]};
  };
}
const psData = psTimes.map((t, i) => [t, 0, i]);
series.push({type:'custom', xAxisIndex:gTop, yAxisIndex:gTop, data:psData, renderItem:psRender(true), silent:true, animation:false, z:6, clip:false});
series.push({type:'custom', xAxisIndex:gBot, yAxisIndex:gBot, data:psData, renderItem:psRender(false), silent:true, animation:false, z:6, clip:false});

// static texts
function txt(x, y, text, size, o) {
  o = o || {};
  const al = o.align || 'left';
  graphics.push({type:'text', x:x, y:y, silent:true, z:10, style:{text:text, fontSize:size, fontFamily:o.ff || FF,
    fontWeight:o.fw || 'normal', fill:o.color || '#000', align:al, verticalAlign:'middle', textAlign:al, textVerticalAlign:'middle'}});
}
// label with bold CJK part and regular latin part
function mixTxt(x, y, text, size) {
  const m = text.match(/^([^\x00-\x7F]*)(.*)$/);
  const cjk = m[1], lat = m[2];
  let s = '';
  if (cjk) s += '{b|' + cjk + '}';
  if (lat) s += '{n|' + lat + '}';
  graphics.push({type:'text', x:x, y:y, silent:true, z:10, style:{text:s, align:'left', verticalAlign:'middle',
    textAlign:'left', textVerticalAlign:'middle', fill:'#000',
    rich:{b:{fontSize:size, fontFamily:FFJ, fontWeight:'bold', fill:'#000', color:'#000'},
          n:{fontSize:size, fontFamily:FF, fontWeight:'normal', fill:'#000', color:'#000'}}}});
}
function seg(x1, y1, x2, y2, color, w) {
  graphics.push({type:'line', silent:true, z:10, shape:{x1:x1, y1:y1, x2:x2, y2:y2}, style:{stroke:color, lineWidth:w}});
}
txt(227, 43.3, '2026/7/28 16:27:20-', 30);
txt(837, 43.3, '諫早市多良見町', 32, {ff:FFJ, fw:'bold'});
panels.forEach(p => {
  mixTxt(109, p.top + p.ldy, p.label, 21);
  txt(82, p.top + p.h / 2 + p.udy, p.unit, p.unit === 'cm/sec' ? 15 : 14, {align:'right'});
});
mixTxt(111, 1238, '震度（参考値）：4.83', 27);

txt(1687.7, 89.8, 'フーリエスペクトル', 31, {ff:FFJ});
txt(2015, 95, '0.4Hz band smoothing', 21);
txt(1373, 103.4, 'cm/sec(gal·sec)', 16);
txt(2164, 754, 'sec', 20);
txt(1652.8, 875, '相対速度応答スペクトル', 32, {ff:FFJ});
txt(2181, 880, 'h=5%', 21);
txt(1373, 890, 'cm/sec', 16);
txt(2164, 1539, 'sec', 20);

// legends
txt(1656.5, 776.7, 'NS', 15); seg(1690, 777, 1751, 777, C_NS, 2);
txt(1790, 776.7, 'EW', 15); seg(1826, 777, 1888, 777, C_EW, 2);
txt(1930, 776.7, 'UD', 15); seg(1963, 777, 2025, 777, C_UD, 2);
txt(1566, 1562, 'NS', 15); seg(1597, 1562.5, 1660, 1562.5, C_NS, 2);
txt(1721, 1562, 'EW', 15); seg(1756, 1562.5, 1818, 1562.5, C_EW, 2);
txt(1883, 1562, 'UD', 15); seg(1916, 1562.5, 1979, 1562.5, C_UD, 2);
txt(2004, 1562, 'Horizon', 15); seg(2075, 1562.5, 2137, 1562.5, '#000', 3.5);

const chart = echarts.init(document.getElementById('chart'), null, {renderer:'canvas', width:2316, height:1637});
chart.setOption({
  animation:false,
  backgroundColor:'#ffffff',
  textStyle:{fontFamily:FF},
  grid:grids, xAxis:xAxes, yAxis:yAxes, series:series,
  graphic:{elements:graphics}
});
</script>
</body>
</html>
